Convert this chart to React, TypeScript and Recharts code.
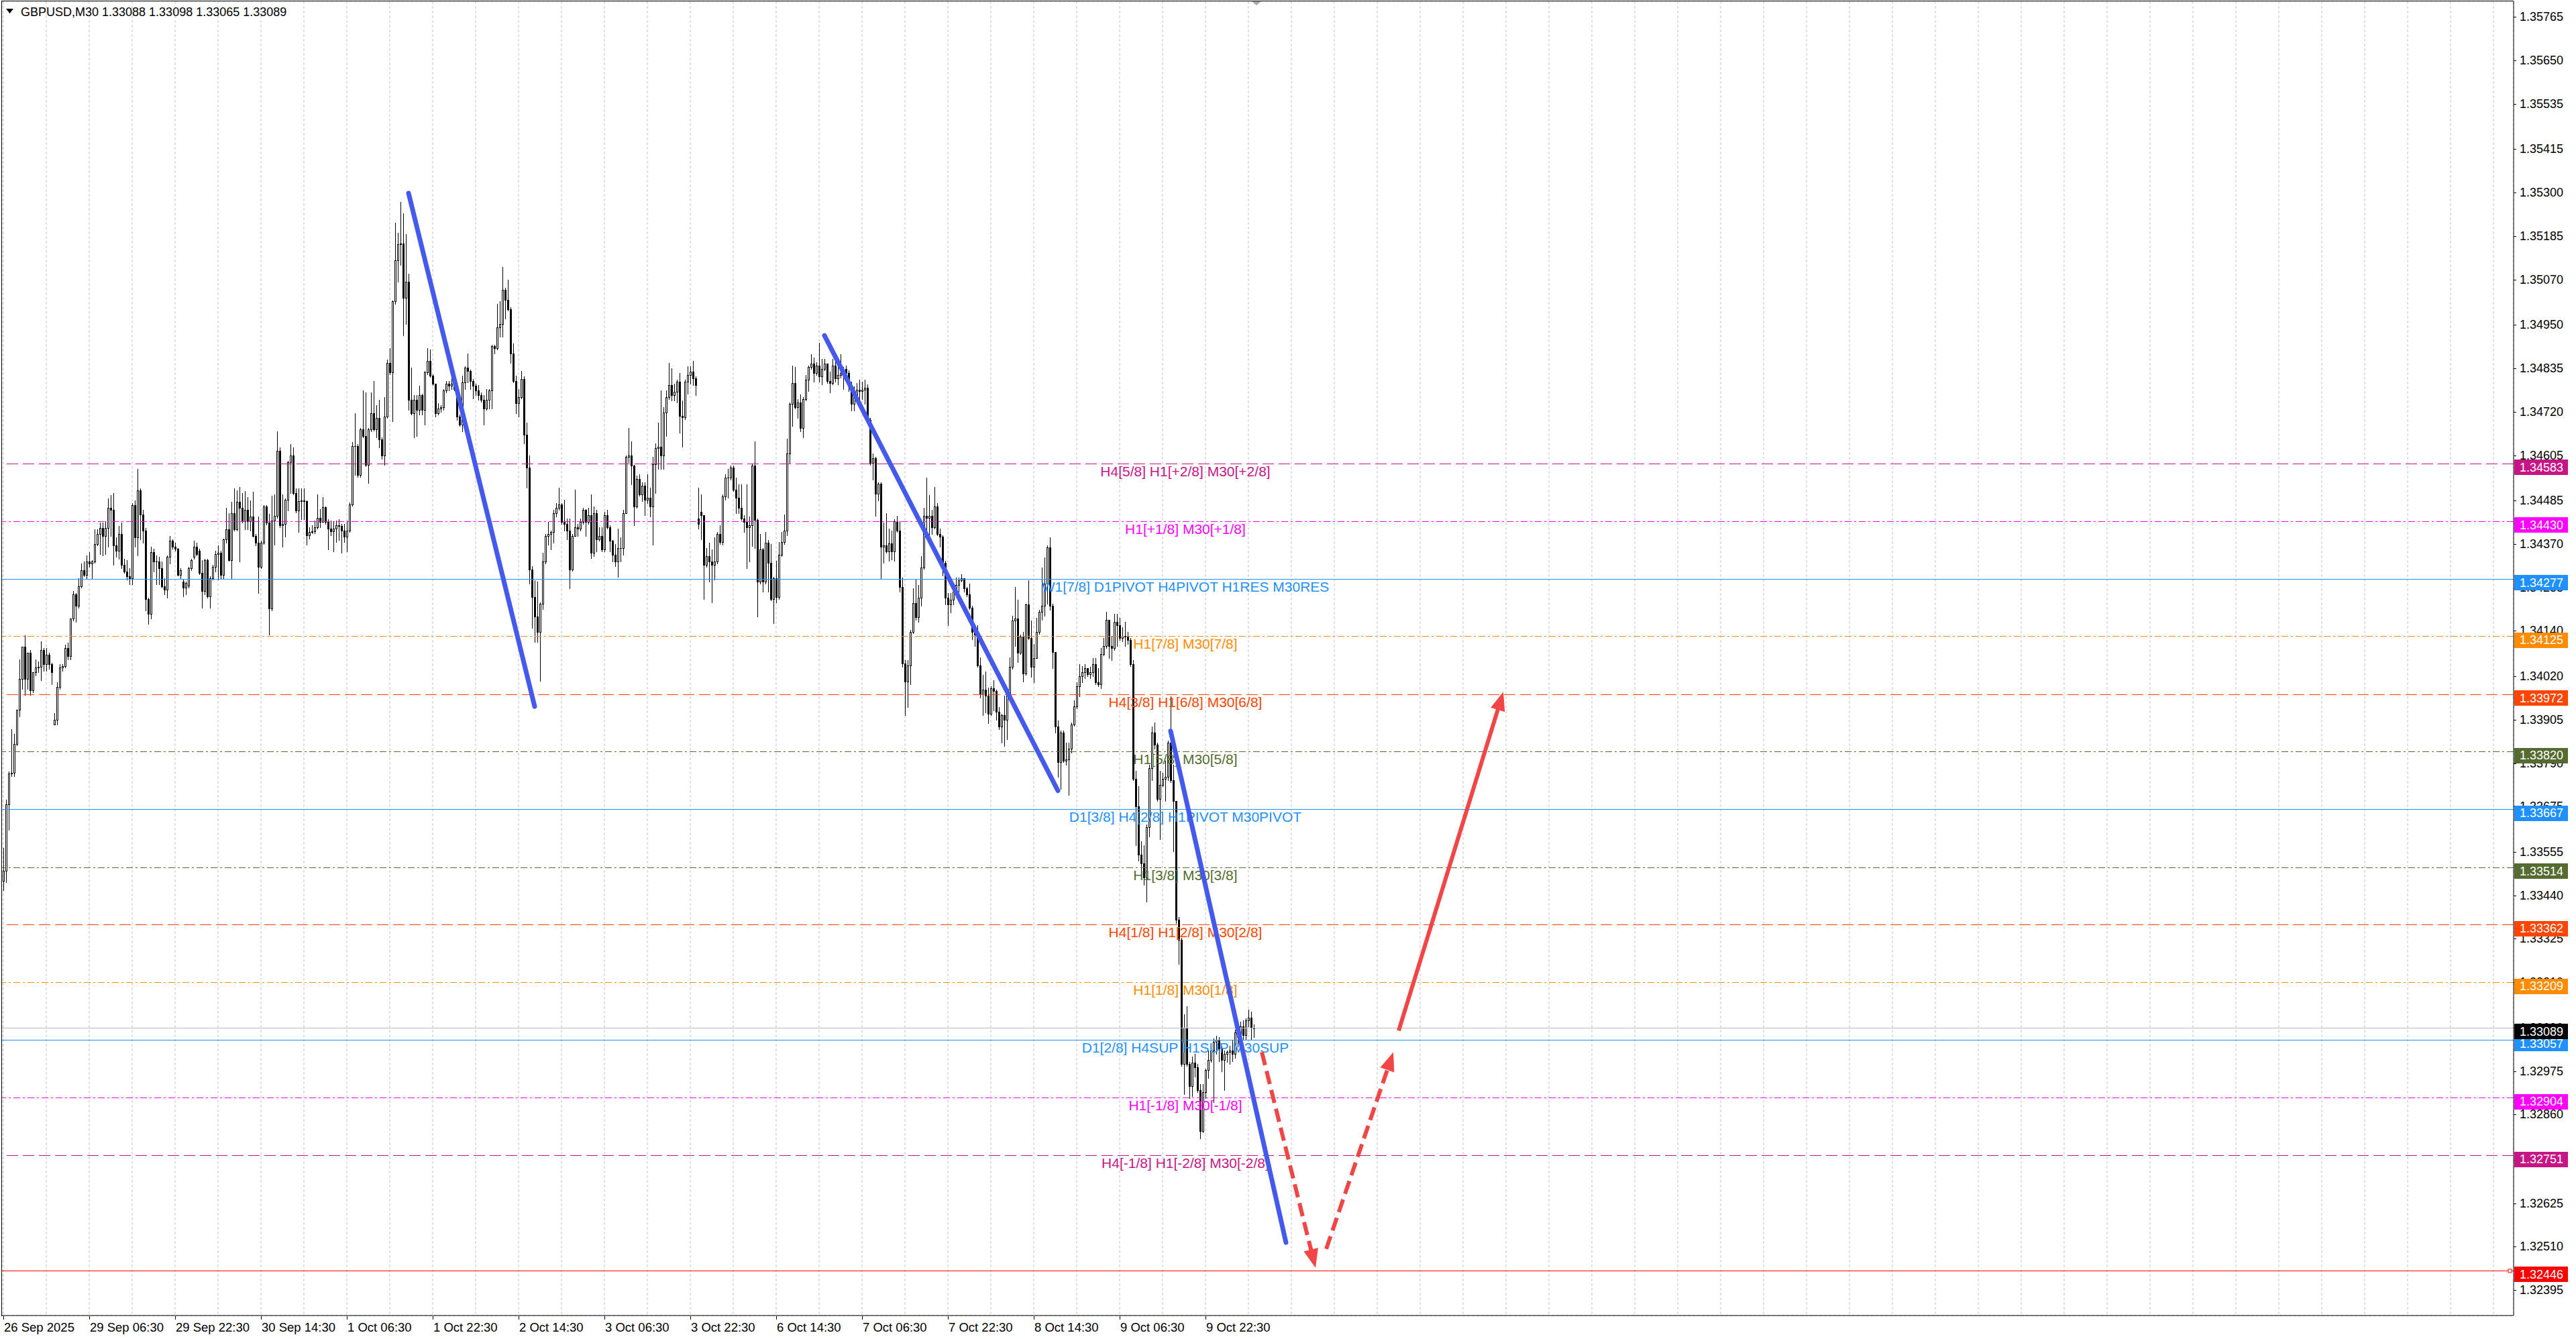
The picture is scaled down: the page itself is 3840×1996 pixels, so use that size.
import React from "react";
import { ComposedChart, Bar, XAxis, YAxis, CartesianGrid, ReferenceLine } from "recharts";

type K = [number, number, number, number]; // open, high, low, close in points above 1.30000

const sep26: K[] = [
  [3479,3565,3453,3505],[3505,3694,3475,3681],[3681,3768,3613,3763],[3763,3880,3755,3765],[3765,3867,3755,3841],
  [3841,3931,3838,3931],[3931,4065,3914,4013],[4013,4099,3987,4099],[4099,4129,3970,4013],[4013,4082,3987,4082],
  [4082,4090,3970,3983],[3983,4030,3978,4030],[4030,4065,4022,4043],[4043,4060,4030,4045],[4045,4112,4009,4090],
  [4090,4095,4035,4052],[4052,4095,4035,4077],[4077,4082,4039,4052],[4052,4056,3998,4030],
];
const sep29: K[] = [
  [3892,3923,3892,3905],[3905,4004,3892,3991],[3991,4052,3987,4043],[4043,4052,4034,4047],[4047,4103,4043,4095],
  [4095,4108,4065,4073],[4073,4172,4065,4172],[4172,4245,4168,4237],[4237,4240,4164,4207],[4207,4280,4202,4258],
  [4258,4318,4255,4301],[4301,4323,4285,4288],[4288,4340,4280,4323],[4323,4349,4310,4319],[4319,4327,4280,4323],
  [4323,4409,4320,4370],[4370,4409,4366,4396],[4396,4426,4344,4413],[4413,4426,4340,4392],[4392,4430,4344,4413],
  [4413,4491,4362,4465],[4465,4499,4392,4461],[4461,4504,4314,4366],[4366,4387,4336,4353],[4353,4418,4331,4396],
  [4396,4426,4306,4314],[4314,4331,4293,4297],[4297,4327,4275,4284],[4284,4306,4263,4280],[4280,4478,4263,4473],
  [4473,4486,4362,4387],[4387,4568,4340,4512],[4512,4517,4383,4448],[4448,4461,4374,4405],[4405,4412,4194,4224],
  [4224,4228,4159,4185],[4185,4362,4172,4349],[4349,4357,4297,4323],[4323,4340,4263,4323],[4323,4336,4263,4306],
  [4306,4323,4254,4258],[4258,4280,4237,4250],[4250,4340,4228,4336],[4336,4392,4319,4379],[4379,4383,4357,4362],
  [4362,4374,4353,4357],[4357,4360,4286,4288],[4288,4306,4280,4301],
];
const sep30: K[] = [
  [4271,4275,4232,4254],[4254,4271,4237,4267],[4259,4310,4254,4306],[4306,4331,4301,4327],[4336,4379,4331,4362],
  [4362,4374,4340,4344],[4353,4357,4290,4293],[4293,4327,4202,4245],[4245,4331,4237,4327],[4327,4331,4228,4232],
  [4232,4284,4202,4280],[4280,4314,4275,4310],[4310,4353,4297,4344],[4344,4366,4275,4347],[4347,4353,4280,4288],
  [4288,4385,4280,4383],[4383,4465,4374,4409],[4409,4452,4325,4327],[4327,4482,4280,4452],[4452,4517,4405,4409],
  [4409,4512,4405,4482],[4482,4520,4323,4465],[4465,4505,4426,4430],[4430,4510,4409,4461],[4461,4495,4409,4430],
  [4430,4486,4405,4443],[4443,4508,4390,4392],[4392,4396,4366,4374],[4374,4443,4241,4310],[4310,4379,4306,4374],
  [4374,4473,4370,4469],[4469,4473,4422,4426],[4426,4449,4131,4200],[4200,4497,4195,4432],[4432,4501,4368,4445],
  [4445,4669,4440,4617],[4617,4626,4415,4419],[4419,4501,4363,4424],[4424,4490,4389,4488],[4488,4590,4458,4587],
  [4587,4634,4505,4604],[4604,4626,4502,4505],[4505,4518,4454,4458],[4458,4518,4402,4484],[4484,4518,4436,4486],
  [4486,4518,4436,4484],[4484,4486,4368,4393],[4393,4415,4385,4402],
];
const oct01: K[] = [
  [4402,4419,4398,4404],[4404,4432,4398,4415],[4415,4501,4410,4440],[4440,4462,4415,4428],[4428,4495,4428,4467],
  [4467,4470,4424,4428],[4428,4436,4355,4411],[4411,4432,4393,4404],[4404,4428,4350,4411],[4411,4432,4376,4419],
  [4419,4436,4381,4418],[4418,4424,4346,4406],[4406,4424,4376,4389],[4389,4432,4350,4406],[4406,4480,4402,4475],
  [4475,4639,4471,4630],[4630,4716,4553,4630],[4630,4634,4548,4553],[4553,4678,4548,4673],[4673,4776,4652,4656],
  [4656,4772,4576,4579],[4579,4678,4531,4673],[4673,4772,4669,4716],[4716,4802,4670,4673],[4673,4738,4652,4703],
  [4703,4751,4626,4647],[4647,4652,4596,4604],[4604,4759,4579,4708],[4708,4858,4703,4850],[4850,4888,4820,4824],
  [4824,5015,4695,5013],[5013,5220,5005,5121],[5121,5194,5065,5164],[5164,5276,5108,5166],[5166,5246,4923,5022],
  [5022,5190,4953,5065],[5065,5086,4725,4751],[4751,4837,4712,4716],[4716,4764,4652,4751],[4751,4764,4656,4725],
  [4725,4789,4712,4764],[4764,4768,4712,4725],[4725,4828,4686,4824],[4824,4888,4820,4854],[4854,4884,4812,4815],
  [4815,4820,4790,4794],[4794,4794,4708,4716],[4716,4742,4712,4729],
];
const oct02: K[] = [
  [4729,4738,4720,4733],[4733,4781,4725,4776],[4776,4802,4772,4794],[4794,4802,4776,4789],[4789,4832,4781,4794],
  [4794,4828,4776,4781],[4781,4786,4699,4708],[4708,4712,4682,4686],[4686,4815,4669,4798],[4798,4841,4781,4837],
  [4837,4875,4798,4828],[4828,4832,4781,4802],[4802,4807,4755,4789],[4789,4794,4764,4777],[4777,4790,4751,4764],
  [4764,4772,4746,4751],[4751,4764,4686,4729],[4729,4781,4725,4751],[4751,4781,4729,4776],[4776,4897,4729,4893],
  [4893,4897,4875,4888],[4888,5005,4885,4944],[4944,5013,4919,4953],[4953,5104,4919,5043],[5043,5048,4966,5017],
  [5017,5069,4987,4992],[4992,4996,4850,4875],[4875,4901,4798,4802],[4802,4815,4716,4742],[4742,4781,4708,4759],
  [4759,4828,4755,4807],[4807,4813,4637,4659],[4659,4691,4519,4573],[4573,4605,4265,4302],[4302,4311,4148,4229],
  [4229,4274,4111,4179],[4179,4270,4111,4138],[4138,4215,4007,4211],[4211,4347,4197,4324],[4324,4397,4318,4392],
  [4392,4428,4369,4397],[4397,4406,4356,4401],[4401,4460,4374,4451],[4451,4478,4442,4465],[4465,4519,4460,4474],
  [4474,4478,4424,4428],[4428,4487,4406,4424],[4424,4437,4383,4406],
];
const oct03: K[] = [
  [4406,4437,4252,4302],[4302,4397,4298,4392],[4392,4514,4392,4415],[4415,4424,4392,4410],[4410,4437,4406,4428],
  [4428,4465,4424,4460],[4460,4462,4392,4428],[4428,4465,4424,4447],[4447,4501,4333,4347],[4347,4469,4338,4451],
  [4451,4460,4351,4383],[4383,4415,4378,4392],[4392,4415,4351,4356],[4356,4456,4351,4447],[4447,4460,4410,4415],
  [4415,4420,4351,4379],[4379,4380,4324,4342],[4342,4370,4311,4324],[4324,4410,4283,4360],[4360,4388,4324,4360],
  [4360,4460,4342,4451],[4451,4605,4451,4600],[4600,4678,4587,4605],[4605,4641,4528,4578],[4578,4580,4419,4469],
  [4469,4551,4465,4542],[4542,4555,4497,4501],[4501,4533,4483,4524],[4524,4533,4447,4487],[4487,4555,4478,4492],
  [4492,4519,4442,4469],[4469,4600,4369,4582],[4582,4637,4505,4623],[4623,4691,4569,4628],[4628,4777,4569,4605],
  [4605,4732,4569,4718],[4718,4777,4655,4759],[4759,4850,4754,4791],[4791,4836,4750,4764],[4764,4795,4750,4773],
  [4773,4805,4745,4800],[4800,4823,4664,4709],[4709,4750,4628,4705],[4705,4805,4700,4800],[4800,4841,4768,4818],
  [4818,4841,4795,4827],[4827,4854,4791,4809],[4809,4814,4764,4791],
];
const oct06: K[] = [
  [4437,4519,4410,4424],[4456,4501,4383,4447],[4447,4447,4225,4315],[4315,4360,4310,4338],[4338,4374,4270,4324],
  [4324,4356,4216,4315],[4315,4388,4275,4324],[4324,4401,4318,4397],[4397,4420,4370,4375],[4375,4501,4369,4496],
  [4496,4555,4487,4546],[4546,4569,4492,4546],[4546,4578,4540,4573],[4573,4578,4510,4514],[4514,4546,4451,4492],
  [4492,4528,4451,4465],[4465,4528,4433,4437],[4437,4447,4401,4428],[4428,4528,4306,4415],[4415,4442,4324,4419],
  [4419,4582,4365,4578],[4578,4641,4360,4433],[4433,4437,4179,4270],[4270,4397,4265,4356],[4356,4360,4243,4270],
  [4270,4401,4265,4374],[4374,4380,4243,4320],[4320,4370,4220,4225],[4225,4283,4161,4279],[4279,4325,4215,4230],
  [4230,4376,4225,4342],[4342,4401,4338,4376],[4376,4448,4370,4406],[4406,4648,4393,4609],[4609,4745,4584,4741],
  [4741,4843,4682,4796],[4796,4839,4728,4733],[4733,4754,4703,4745],[4745,4766,4669,4677],[4677,4758,4652,4754],
  [4754,4817,4750,4805],[4805,4843,4775,4839],[4839,4873,4834,4847],[4847,4864,4800,4822],[4822,4852,4817,4843],
  [4843,4902,4800,4813],[4813,4860,4792,4834],[4834,4860,4830,4847],
];
const oct07: K[] = [
  [4847,4847,4796,4801],[4801,4826,4771,4796],[4796,4860,4792,4843],[4843,4868,4800,4809],[4809,4852,4792,4817],
  [4817,4873,4810,4822],[4822,4839,4780,4834],[4834,4843,4810,4822],[4822,4830,4775,4788],[4788,4800,4724,4741],
  [4741,4788,4724,4762],[4762,4796,4758,4779],[4779,4805,4745,4775],[4775,4800,4754,4779],[4779,4805,4741,4783],
  [4783,4792,4694,4699],[4699,4703,4580,4584],[4584,4609,4541,4597],[4597,4601,4444,4503],[4503,4533,4486,4529],
  [4529,4533,4278,4363],[4363,4427,4321,4367],[4367,4452,4346,4350],[4350,4410,4325,4372],[4372,4406,4329,4350],
  [4350,4435,4325,4431],[4431,4444,4401,4406],[4406,4431,4244,4257],[4257,4282,4045,4053],[4053,4062,3917,4006],
  [4006,4062,3938,4049],[4049,4142,3998,4138],[4138,4253,4134,4214],[4214,4278,4170,4176],[4176,4261,4164,4227],
  [4227,4338,4206,4308],[4308,4465,4304,4444],[4444,4546,4393,4440],[4440,4499,4393,4445],[4445,4461,4397,4414],
  [4414,4520,4410,4469],[4469,4478,4393,4397],[4397,4410,4363,4389],[4389,4393,4287,4321],[4321,4325,4210,4227],
  [4227,4240,4155,4210],[4210,4240,4189,4223],[4223,4261,4210,4244],
];
const oct08: K[] = [
  [4244,4282,4236,4261],[4261,4282,4244,4274],[4274,4290,4270,4280],[4280,4280,4244,4253],[4253,4257,4232,4236],
  [4236,4265,4197,4202],[4202,4206,4117,4138],[4138,4150,4100,4130],[4130,4155,4045,4049],[4049,4070,3964,3972],
  [3972,4023,3917,3985],[3985,4032,3925,3968],[3968,3990,3896,3921],[3921,3994,3917,3989],[3989,4010,3930,3981],
  [3981,3985,3905,3926],[3926,3938,3879,3887],[3887,3921,3845,3917],[3917,3968,3836,3904],[3904,3972,3853,3968],
  [3968,4070,3964,4045],[4045,4180,4040,4168],[4168,4257,4100,4172],[4172,4223,4057,4083],[4083,4130,4078,4125],
  [4125,4138,4006,4027],[4027,4212,4023,4210],[4210,4274,4117,4121],[4121,4168,4019,4045],[4045,4106,4004,4068],
  [4068,4175,4068,4137],[4137,4196,4132,4191],[4191,4308,4170,4207],[4207,4335,4180,4265],[4265,4366,4212,4361],
  [4361,4388,4196,4207],[4207,4212,4042,4084],[4084,4084,3871,3887],[3887,3903,3754,3792],[3792,3877,3722,3871],
  [3871,3877,3792,3797],[3797,3845,3786,3800],[3800,3845,3706,3829],[3829,3898,3818,3893],[3893,3957,3888,3941],
  [3941,4004,3935,3994],[3994,4052,3967,4020],[4020,4047,4004,4031],
];
const oct09: K[] = [
  [4031,4052,4015,4042],[4042,4042,4020,4026],[4026,4045,4015,4031],[4031,4068,4020,4052],[4052,4068,3999,4004],
  [4004,4042,3994,3999],[3999,4095,3989,4079],[4079,4122,4075,4100],[4100,4191,4095,4170],[4170,4170,4068,4100],
  [4100,4127,4063,4095],[4095,4185,4090,4164],[4164,4185,4100,4155],[4155,4175,4116,4122],[4122,4150,4112,4127],
  [4127,4164,4100,4125],[4125,4137,4106,4116],[4116,4122,4047,4052],[4052,4063,3744,3749],[3749,3770,3573,3675],
  [3675,3728,3531,3547],[3547,3584,3488,3525],[3525,3573,3467,3488],[3488,3627,3424,3621],[3621,3786,3595,3776],
  [3776,3887,3744,3871],[3871,3898,3829,3839],[3839,3845,3690,3696],[3696,3770,3589,3733],[3733,3765,3728,3749],
  [3749,3797,3690,3754],[3754,3850,3744,3845],[3845,3967,3740,3744],[3744,3786,3557,3690],[3690,3690,3366,3376],
  [3376,3382,3259,3323],[3323,3328,2988,2993],[2993,3126,2913,3089],[3089,3147,2988,2993],[2993,2999,2903,2935],
  [2935,3014,2908,2998],[2998,3020,2960,2985],[2985,2993,2919,2924],[2924,2940,2796,2817],[2817,2940,2812,2919],
  [2919,2982,2903,2977],[2977,3030,2956,3004],[3004,3041,2999,3030],
];
const oct10: K[] = [
  [3030,3062,2892,3052],[3052,3068,3020,3057],[3057,3065,3000,3035],[3035,3040,2975,3005],[3005,3030,2924,3020],
  [3020,3030,2999,3025],[3025,3041,2993,3030],[3030,3057,3000,3020],[3020,3084,3010,3078],[3078,3100,3040,3065],
  [3065,3105,3050,3094],[3094,3110,3060,3070],[3070,3115,3060,3110],[3110,3137,3094,3116],[3116,3132,3057,3089],
  [3088,3098,3065,3089],
];

const timeLabels = [
  "26 Sep 2025", "29 Sep 06:30", "29 Sep 22:30", "30 Sep 14:30", "1 Oct 06:30", "1 Oct 22:30", "2 Oct 14:30",
  "3 Oct 06:30", "3 Oct 22:30", "6 Oct 14:30", "7 Oct 06:30", "7 Oct 22:30", "8 Oct 14:30", "9 Oct 06:30", "9 Oct 22:30",
];
const yTicks = [
  1.35765, 1.3565, 1.35535, 1.35415, 1.353, 1.35185, 1.3507, 1.3495, 1.34835, 1.3472, 1.34605, 1.34485, 1.3437,
  1.34255, 1.3414, 1.3402, 1.33905, 1.3379, 1.33675, 1.33555, 1.3344, 1.33325, 1.3321, 1.3309, 1.32975, 1.3286,
  1.3274, 1.32625, 1.3251, 1.32395,
];
const levelPrices = [1.34583, 1.3443, 1.34277, 1.34125, 1.33972, 1.3382, 1.33667, 1.33514, 1.33362, 1.33209, 1.33057, 1.32904, 1.32751];
const levelTexts = [
  "H4[5/8] H1[+2/8] M30[+2/8]", "H1[+1/8] M30[+1/8]", "W1[7/8] D1PIVOT H4PIVOT H1RES M30RES", "H1[7/8] M30[7/8]",
  "H4[3/8] H1[6/8] M30[6/8]", "H1[5/8] M30[5/8]", "D1[3/8] H4[2/8] H1PIVOT M30PIVOT", "H1[3/8] M30[3/8]",
  "H4[1/8] H1[2/8] M30[2/8]", "H1[1/8] M30[1/8]", "D1[2/8] H4SUP H1SUP M30SUP", "H1[-1/8] M30[-1/8]",
  "H4[-1/8] H1[-2/8] M30[-2/8]",
];
const levelKinds = ["h4x", "h1x", "piv", "h1o", "h4o", "h1g", "piv", "h1g", "h4o", "h1o", "piv", "h1x", "h4x"];
const bidPrice = 1.33089;
const supportPrice = 1.32446;
const symbolTitle = "GBPUSD,M30  1.33088 1.33098 1.33065 1.33089";

const trendA = [{ x: 151, y: 1.35299 }, { x: 198, y: 1.3394 }];
const trendB = [{ x: 306, y: 1.34922 }, { x: 393, y: 1.33717 }];
const trendC = [{ x: 435, y: 1.33875 }, { x: 478, y: 1.32521 }];
const fcDown = [{ x: 469, y: 1.33025 }, { x: 489, y: 1.32454 }];
const fcUp = [{ x: 493, y: 1.32504 }, { x: 518, y: 1.33025 }];
const fcTarget = [{ x: 520, y: 1.33082 }, { x: 559, y: 1.33979 }];

// ---------- styles ----------
const KIND_STYLE: Record<string, { color: string; dash?: string }> = {
  h4x: { color: "#C71585", dash: "17 7" },
  h1x: { color: "#FF00FF", dash: "10 4 3 4" },
  piv: { color: "#1E90FF" },
  h1o: { color: "#FF8C00", dash: "10 4 3 4" },
  h4o: { color: "#FF4500", dash: "17 7" },
  h1g: { color: "#556B2F", dash: "10 4 3 4" },
};
const BLUE = "#4459EE";
const RED = "#F24545";
const AXIS_FONT = "'Liberation Sans', Arial, sans-serif";
const LABEL_FONT = "'Liberation Sans', Arial, sans-serif";
const W = 3840;
const H = 1996;
const SLOTS = 936;
const LABEL_X = 1767;

const pt = (n: number) => Math.round((1.3 + n / 100000) * 100000) / 100000;
const candles: K[] = [sep26, sep29, sep30, oct01, oct02, oct03, oct06, oct07, oct08, oct09, oct10].flat();
const rows = Array.from({ length: SLOTS }, (_, i) => {
  const k = candles[i];
  if (!k) return { i };
  const [o, h, l, c] = k.map(pt);
  return { i, o, h, l, c, hl: [l, h] };
});
const gridTicks = Array.from({ length: Math.floor((SLOTS - 1) / 16) + 1 }, (_, k) => k * 16);

const Candle = (props: any) => {
  const { x, y, width, height, payload } = props;
  if (!payload || payload.o == null || x == null || y == null) return null;
  const top = Math.min(y, y + height);
  const bot = Math.max(y, y + height);
  const { o, h, l, c } = payload;
  const span = h - l;
  const py = (p: number) => (span > 0 ? top + ((h - p) / span) * (bot - top) : top);
  const cx = Math.floor(x + width / 2) + 0.5;
  const yo = py(o);
  const yc = py(c);
  const bt = Math.round(Math.min(yo, yc)) + 0.5;
  const bb = Math.round(Math.max(yo, yc)) + 0.5;
  const bull = c >= o;
  return (
    <g shapeRendering="crispEdges">
      <line x1={cx} x2={cx} y1={Math.round(top)} y2={Math.round(bot) + 1} stroke="#000" strokeWidth={1} />
      {bb - bt < 1 ? (
        <line x1={cx - 1.5} x2={cx + 1.5} y1={bt} y2={bt} stroke="#000" strokeWidth={1} />
      ) : (
        <rect x={cx - 1} y={bt} width={2} height={bb - bt} fill={bull ? "#FFFFFF" : "#000000"} stroke="#000" strokeWidth={1} />
      )}
    </g>
  );
};

const XTick = (props: any) => {
  const { x, payload } = props;
  const v = payload?.value;
  if (v == null || v % 32 !== 0) return null;
  const idx = v / 32;
  if (idx >= timeLabels.length) return null;
  const px = Math.floor(x) + 0.5;
  return (
    <g>
      <line x1={px} x2={px} y1={1962} y2={1967} stroke="#000" strokeWidth={1} shapeRendering="crispEdges" />
      <text x={x + 1} y={1985} fontSize={18.5} fontFamily={AXIS_FONT} fill="#000" textAnchor="start">
        {timeLabels[idx]}
      </text>
    </g>
  );
};

// price-scale label drawn at the right edge of a horizontal reference line
const priceTick = (value: number) => (props: any) => {
  const vb = props.viewBox || {};
  const ly = vb.y;
  const right = vb.x + vb.width;
  if (ly == null || isNaN(ly)) return null;
  return (
    <g>
      <line x1={right} x2={right + 4} y1={Math.round(ly) + 0.5} y2={Math.round(ly) + 0.5} stroke="#000" strokeWidth={1} shapeRendering="crispEdges" />
      <text x={right + 9} y={ly} fontSize={18} fontFamily={AXIS_FONT} fill="#000" dominantBaseline="central">
        {value.toFixed(5)}
      </text>
    </g>
  );
};

const badge = (price: number, bg: string, text?: string, textColor?: string, square?: boolean) => (props: any) => {
  const vb = props.viewBox || {};
  const ly = vb.y;
  const right = vb.x + vb.width;
  if (ly == null || isNaN(ly)) return null;
  return (
    <g>
      {text ? (
        <text x={LABEL_X} y={ly + 11} fontSize={21} fontFamily={LABEL_FONT} fill={textColor} textAnchor="middle" dominantBaseline="central">
          {text}
        </text>
      ) : null}
      {square ? <rect x={right - 8} y={ly - 2.5} width={5} height={5} fill="#fff" stroke={bg} strokeWidth={1} /> : null}
      <rect x={right + 1} y={ly - 6} width={80} height={23} fill={bg} shapeRendering="crispEdges" />
      <text x={right + 9} y={ly + 5.5} fontSize={18} fontFamily={AXIS_FONT} fill="#FFFFFF" dominantBaseline="central">
        {price.toFixed(5)}
      </text>
    </g>
  );
};

const arrowShape = (dashed: boolean) => (p: any) => {
  const { x1, y1, x2, y2 } = p;
  if ([x1, y1, x2, y2].some((v) => v == null || isNaN(v))) return null;
  const dx = x2 - x1;
  const dy = y2 - y1;
  const len = Math.hypot(dx, dy) || 1;
  const ux = dx / len;
  const uy = dy / len;
  const L = 28;
  const Wd = 11;
  const bx = x2 - ux * L;
  const by = y2 - uy * L;
  const nx = -uy;
  const ny = ux;
  return (
    <g>
      <line x1={x1} y1={y1} x2={bx + ux * 3} y2={by + uy * 3} stroke={RED} strokeWidth={6} strokeDasharray={dashed ? "20 9" : undefined} />
      <polygon points={`${x2},${y2} ${bx + nx * Wd},${by + ny * Wd} ${bx - nx * Wd},${by - ny * Wd}`} fill={RED} />
    </g>
  );
};

export default function App() {
  return (
    <div style={{ position: "absolute", left: 0, top: 0, width: W, height: H, background: "#fff" }}>
      <ComposedChart width={W} height={H} data={rows} margin={{ top: 2, right: 0, bottom: 0, left: 3 }}>
        <CartesianGrid stroke="#C4C4C4" strokeDasharray="4 3" />
        <XAxis
          dataKey="i"
          type="category"
          ticks={gridTicks}
          interval={0}
          height={35}
          tick={<XTick />}
          tickLine={false}
          axisLine={{ stroke: "#000" }}
        />
        <YAxis
          orientation="right"
          type="number"
          domain={[1.323278, 1.358065]}
          allowDataOverflow
          ticks={yTicks}
          interval={0}
          width={93}
          tick={false}
          tickLine={false}
          axisLine={{ stroke: "#000" }}
        />
        <Bar dataKey="hl" barSize={3} shape={<Candle />} isAnimationActive={false} />
        {yTicks.map((v) => (
          <ReferenceLine key={"tk" + v} y={v} stroke="none" ifOverflow="visible" label={priceTick(v)} />
        ))}
        {levelPrices.map((p, k) => {
          const st = KIND_STYLE[levelKinds[k]];
          return (
            <ReferenceLine
              key={"lv" + k}
              y={p}
              stroke={st.color}
              strokeWidth={1}
              strokeDasharray={st.dash}
              shapeRendering="crispEdges"
              label={badge(p, st.color, levelTexts[k], st.color)}
            />
          );
        })}
        <ReferenceLine y={bidPrice} stroke="#B8B8B8" strokeWidth={1} shapeRendering="crispEdges" label={badge(bidPrice, "#000000")} />
        <ReferenceLine y={supportPrice} stroke="#FF0000" strokeWidth={1} shapeRendering="crispEdges" label={badge(supportPrice, "#FF0000", undefined, undefined, true)} />
        {[trendA, trendB, trendC].map((seg, k) => (
          <ReferenceLine key={"tr" + k} segment={seg} stroke={BLUE} strokeWidth={7} strokeLinecap="round" ifOverflow="visible" />
        ))}
        <ReferenceLine segment={fcDown} ifOverflow="visible" shape={arrowShape(true)} />
        <ReferenceLine segment={fcUp} ifOverflow="visible" shape={arrowShape(true)} />
        <ReferenceLine segment={fcTarget} ifOverflow="visible" shape={arrowShape(false)} />
      </ComposedChart>
      <svg width={W} height={H} style={{ position: "absolute", left: 0, top: 0, pointerEvents: "none" }}>
        <line x1={2.5} y1={1} x2={2.5} y2={1962} stroke="#000" strokeWidth={1} />
        <line x1={2} y1={1.5} x2={3747} y2={1.5} stroke="#000" strokeWidth={1} />
        <polygon points="9,13 20,13 14.5,20" fill="#000" />
        <text x={31} y={24} fontSize={18} fontFamily={AXIS_FONT} fill="#000">
          {symbolTitle}
        </text>
        <polygon points="1866,2 1880,2 1873,8" fill="#A8A8A8" />
      </svg>
    </div>
  );
}
